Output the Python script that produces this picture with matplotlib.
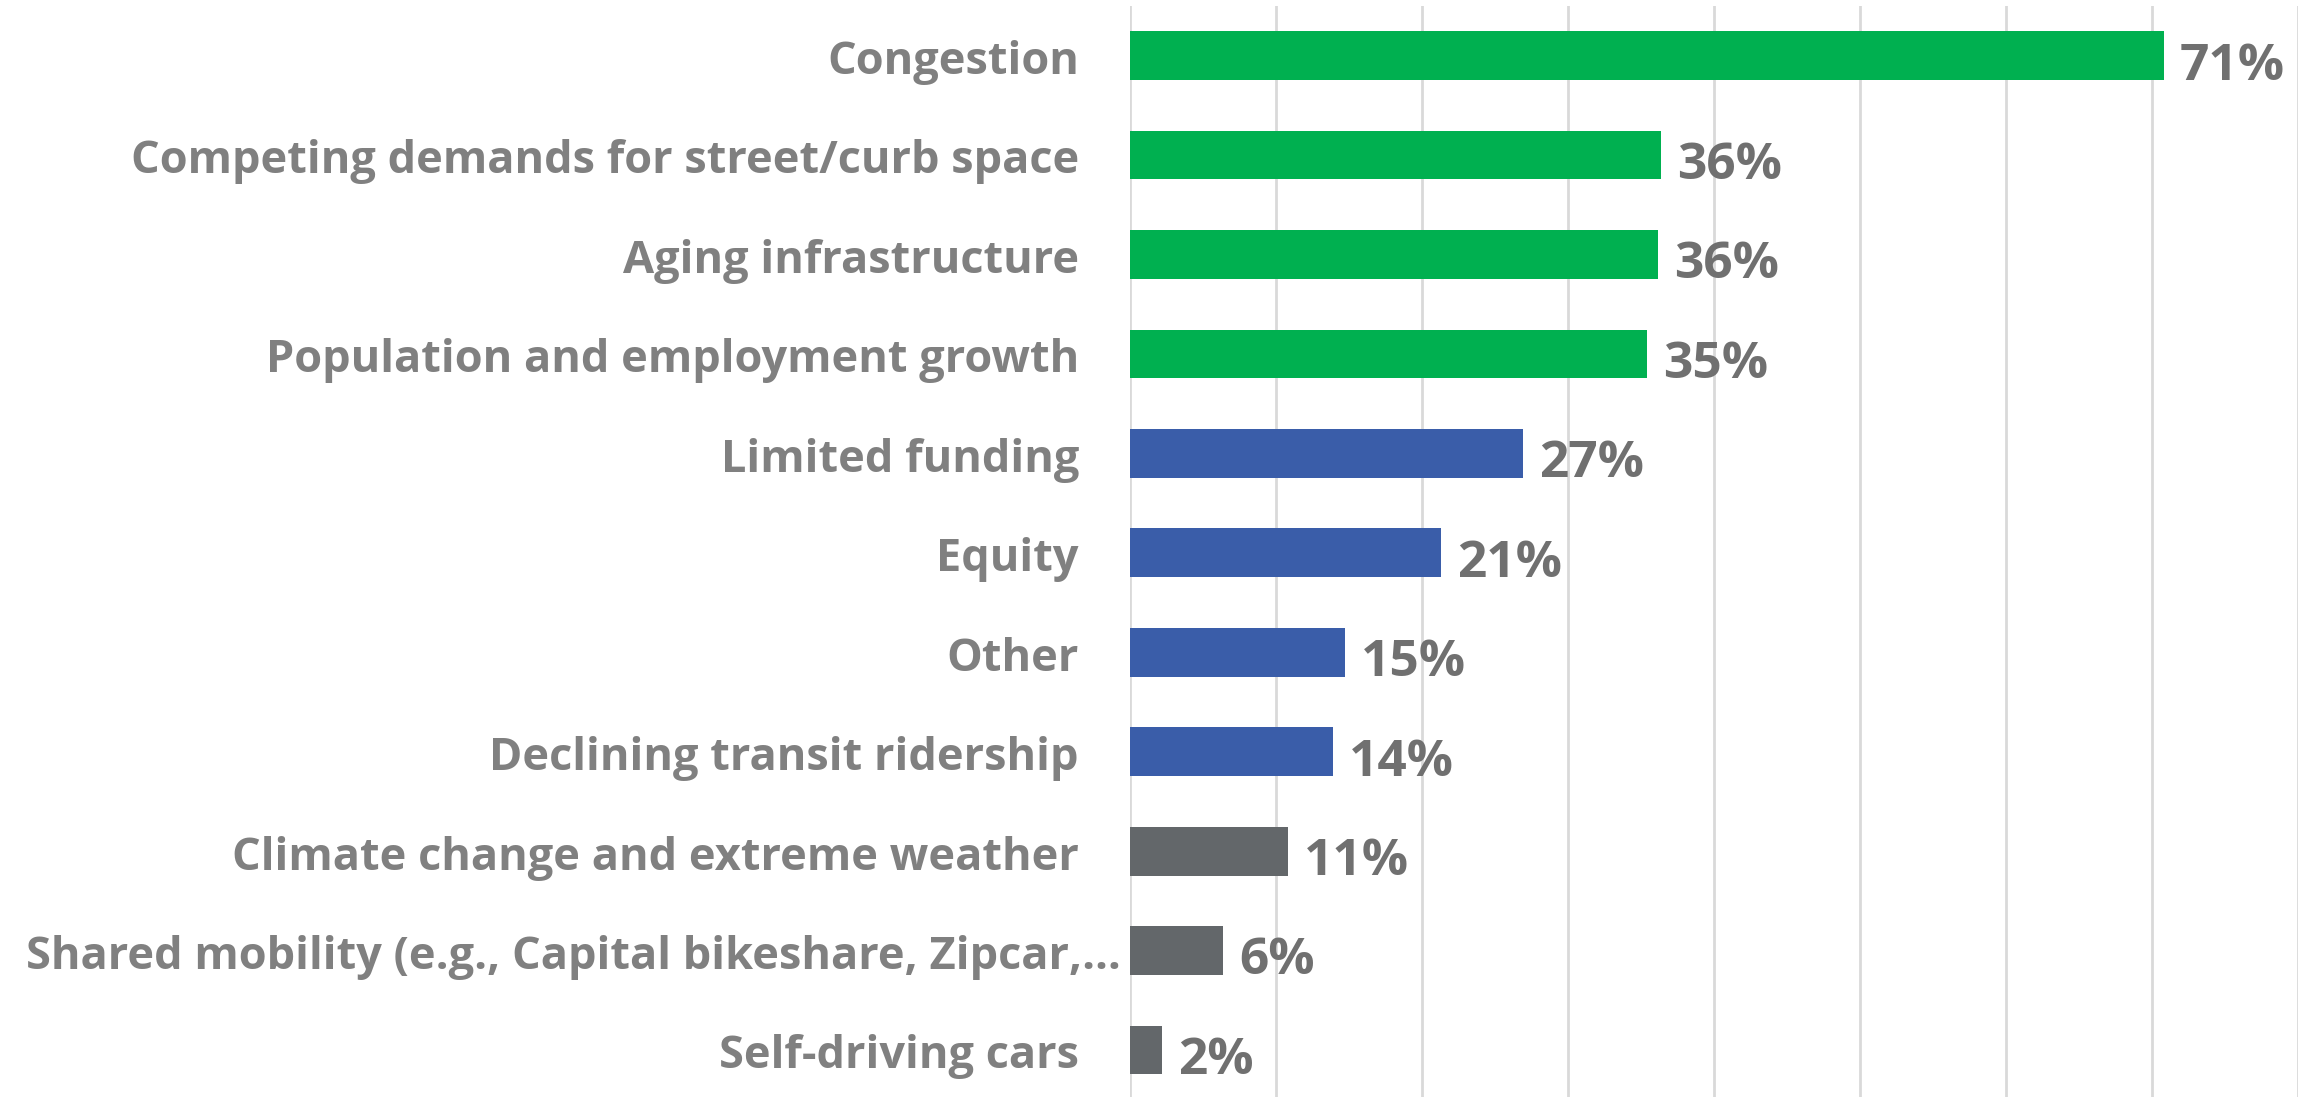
import matplotlib
matplotlib.use("Agg")
import matplotlib.pyplot as plt

categories = [
    "Congestion",
    "Competing demands for street/curb space",
    "Aging infrastructure",
    "Population and employment growth",
    "Limited funding",
    "Equity",
    "Other",
    "Declining transit ridership",
    "Climate change and extreme weather",
    "Shared mobility (e.g., Capital bikeshare, Zipcar,\u2026",
    "Self-driving cars",
]
values = [70.8, 36.4, 36.2, 35.4, 26.9, 21.3, 14.7, 13.9, 10.8, 6.4, 2.2]
labels = ["71%", "36%", "36%", "35%", "27%", "21%", "15%", "14%", "11%", "6%", "2%"]
groups = ["top", "top", "top", "top", "mid", "mid", "mid", "mid", "low", "low", "low"]
group_colors = {"top": "#00B050", "mid": "#3A5DA9", "low": "#63676A"}
xticks = list(range(0, 81, 10))

plt.rcParams["font.family"] = ["Open Sans", "DejaVu Sans"]

fig = plt.figure(figsize=(23.13, 10.979), dpi=100)
ax = fig.add_axes([0.4885, -0.0025, 0.505, 0.9963])

ypos = list(range(len(categories)))
colors = [group_colors[g] for g in groups]
ax.barh(ypos, values, height=0.49, color=colors, zorder=3)

ax.set_xlim(0, 80)
ax.set_ylim(len(categories) - 0.5, -0.5)
ax.set_xticks(xticks)
ax.set_xticklabels([])
ax.set_yticks([])
ax.tick_params(length=0)
ax.grid(axis="x", color="#D9D9D9", linewidth=2, zorder=0)
for s in ax.spines.values():
    s.set_visible(False)

for i, (cat, v, lab) in enumerate(zip(categories, values, labels)):
    off = -51 if len(cat) < 45 else -9
    ax.annotate(cat, xy=(0, i), xycoords="data", xytext=(off, -17.5),
                textcoords="offset pixels", ha="right", va="baseline",
                fontsize=32.5, fontweight="bold", color="#808080",
                annotation_clip=False)
    ax.annotate(lab, xy=(v, i), xycoords="data", xytext=(16, -23),
                textcoords="offset pixels", ha="left", va="baseline",
                fontsize=37, fontweight="bold", color="#707070",
                annotation_clip=False)

fig.savefig("out.png", dpi=100, facecolor="white")
